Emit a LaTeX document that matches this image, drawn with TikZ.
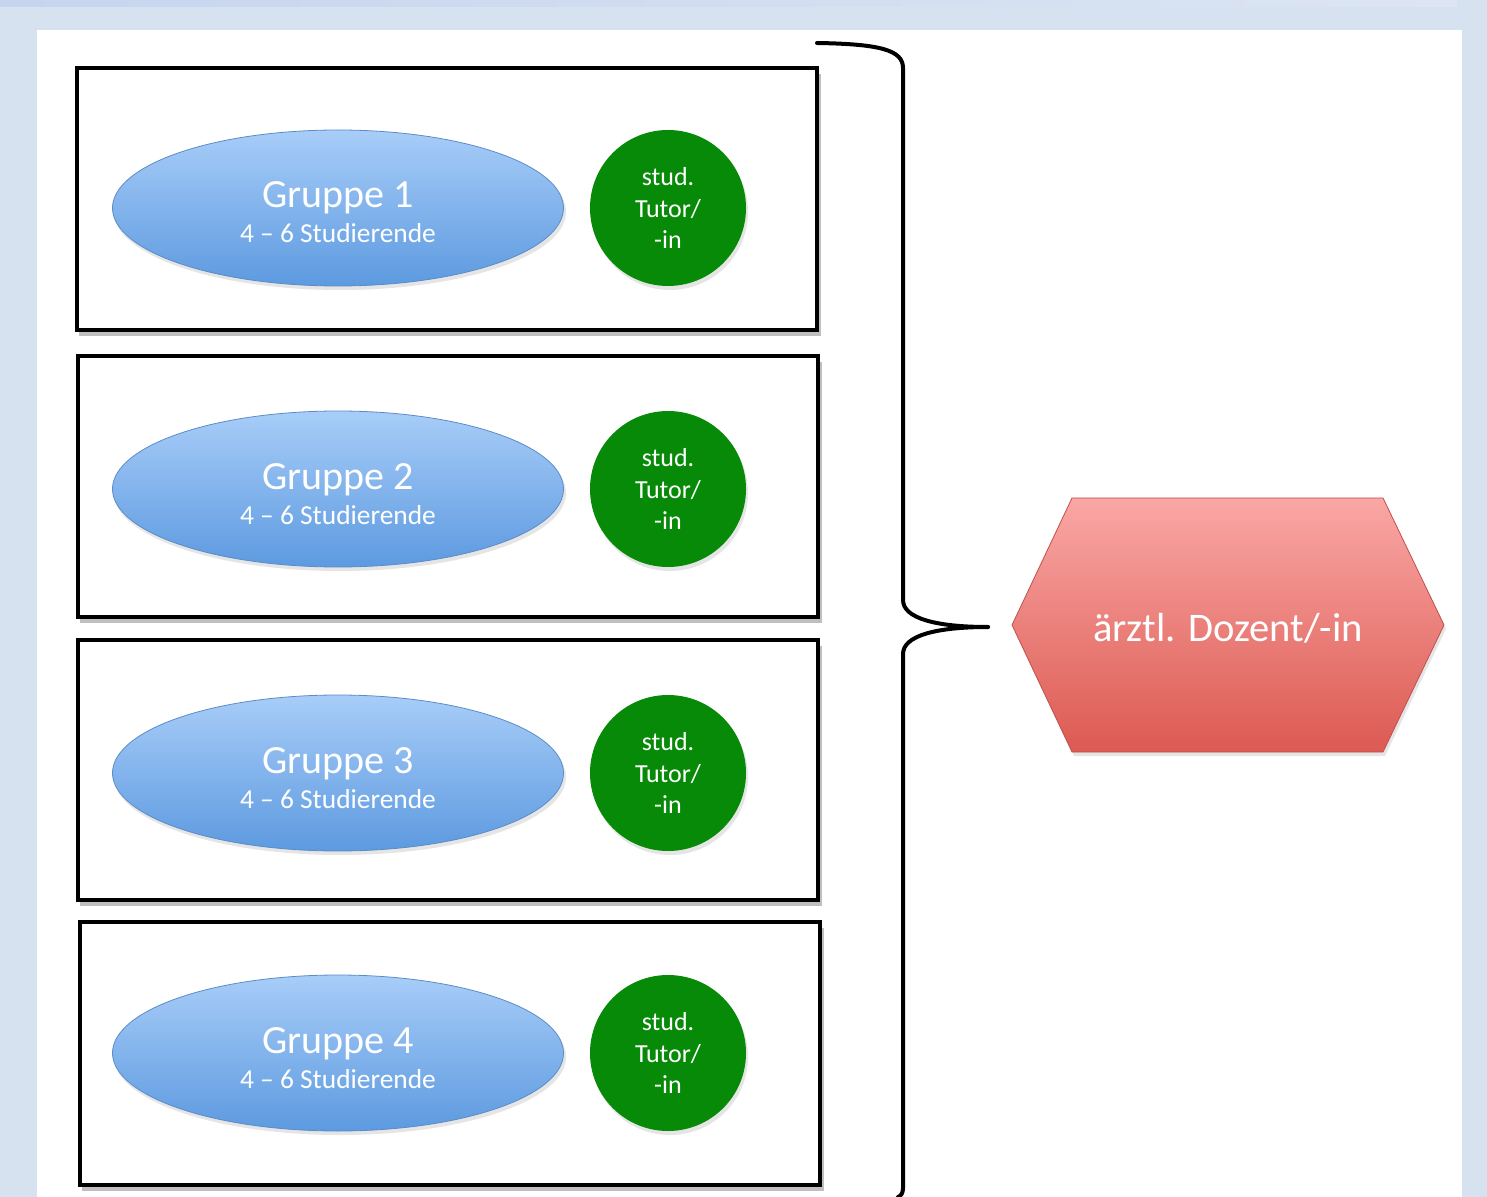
\documentclass[tikz,border=0pt]{standalone}
\usepackage{fontspec}
\setmainfont{Carlito}
\usetikzlibrary{shapes.geometric}
\definecolor{bgblue}{HTML}{D6E2EF}
\definecolor{stripL}{HTML}{C6D4EE}
\definecolor{stripR}{HTML}{DDE5F3}
\definecolor{elltop}{HTML}{A8CDF8}
\definecolor{ellbot}{HTML}{5D9AE0}
\definecolor{ellborder}{HTML}{5B8CC8}
\definecolor{tutgreen}{HTML}{078A07}
\definecolor{hextop}{HTML}{FAA7A5}
\definecolor{hexbot}{HTML}{DC5A52}
\definecolor{hexborder}{HTML}{C0504D}
\tikzset{
  groupbox/.style={draw=black, line width=2pt, minimum width=370pt, minimum height=131pt, inner sep=0pt},
  boxshadow/.style={draw=black!25, line width=2pt},
  groupell/.style={ellipse, top color=elltop, bottom color=ellbot, draw=ellborder, line width=0.4pt,
    minimum width=225.5pt, minimum height=78pt, inner sep=0pt, text=white, align=center},
  tutor/.style={circle, fill=tutgreen, minimum size=78pt, inner sep=0pt, text=white, align=center,
    font=\fontsize{13}{15.75}\selectfont},
  softshadow/.style={fill=black!10},
}
\begin{document}
\begin{tikzpicture}[x=0.5pt,y=-0.5pt]
\useasboundingbox (0,0) rectangle (1487,1197);
\fill[bgblue] (0,0) rectangle (1487,1197);
\shade[left color=stripL, right color=stripR] (0,0) rectangle (1457,7);
\fill[white] (37,30) rectangle (1462,1197);

% group boxes
\foreach \i/\xl/\yt/\xr/\yb in {1/77/68/817/330, 2/78/356/818/617, 3/78/640/818/900, 4/80/922/820/1185}{
  \draw[boxshadow] (\xl+2,\yb+4) -- (\xr+2,\yb+4) -- (\xr+2,\yt+6);
  \node[groupbox, minimum width={(\xr-\xl)*0.5pt}, minimum height={(\yb-\yt)*0.5pt}]
    (box\i) at ({(\xl+\xr)/2},{(\yt+\yb)/2}) {};
}

% ellipses and tutor circles
\foreach \i/\y in {1/208, 2/489, 3/773, 4/1053}{
  \fill[softshadow] (340,\y+4) ellipse (113pt and 39pt);
  \node[groupell] (g\i) at (338,\y) {};
  \node[text=white, align=center, anchor=base, font=\fontsize{20}{20}\selectfont] (gt\i) at (338,\y) {Gruppe \i};
  \node[text=white, anchor=base, font=\fontsize{13.7}{14}\selectfont] (gs\i) at (338,\y+35) {4 – 6 Studierende};
  \fill[softshadow] (670,\y+4) circle (39pt);
  \node[tutor] (t\i) at (668,\y) {stud.\\Tutor/\\-in};
}

% brace
\coordinate (btop) at (817,43);
\coordinate (btip) at (988,627);
\coordinate (bbot) at (898,1197);
\draw[line width=2pt, line cap=round] (btop) .. controls (880,44) and (903,50) .. (903,68)
  -- (903,600) .. controls (903,618) and (935,627) .. (btip);
\draw[line width=2pt, line cap=round] (btip) .. controls (935,627) and (903,636) .. (903,654)
  -- (903,1188) .. controls (903,1193) and (901,1196) .. (bbot);

% hexagon
\fill[softshadow] (1074,502) -- (1385,502) -- (1446,629) -- (1385,756) -- (1074,756) -- (1014,629) -- cycle;
\shade[top color=hextop, bottom color=hexbot, draw=hexborder, line width=0.4pt]
  (1072,498) -- (1383,498) -- (1444,625) -- (1383,752) -- (1072,752) -- (1012,625) -- cycle;
\node[text=white, font=\fontsize{20.3}{24}\selectfont] (doz) at (1228,628) {ärztl. Dozent/-in};
\end{tikzpicture}
\end{document}
